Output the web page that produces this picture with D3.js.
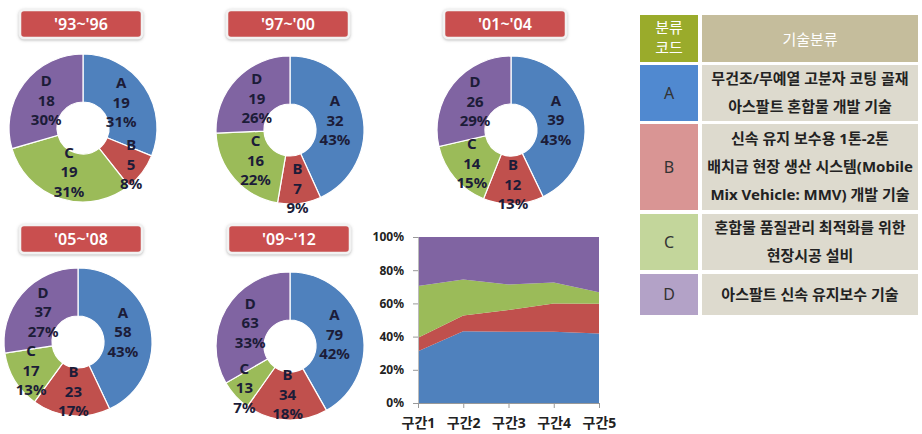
<!DOCTYPE html>
<html>
<head>
<meta charset="utf-8">
<script src="https://cdn.jsdelivr.net/npm/d3@7/dist/d3.min.js"></script>
<style>
  body { margin: 0; background: #fff; }
  svg text { font-family: "Noto Sans", "Noto Sans CJK KR", sans-serif; }
</style>
</head>
<body>
<div class="chart"></div>
<script>
//data
var periods = ["'93~'96", "'97~'00", "'01~'04", "'05~'08", "'09~'12"];
var codes = ["A", "B", "C", "D"];
var countA = [19, 32, 39, 58, 79];
var countB = [5, 7, 12, 23, 34];
var countC = [19, 16, 14, 17, 13];
var countD = [18, 19, 26, 37, 63];
var sections = ["구간1", "구간2", "구간3", "구간4", "구간5"];
var yTicks = [0, 0.2, 0.4, 0.6, 0.8, 1];
var tableHead = ["분류|코드", "기술분류"];
var techNames = [
  ["무건조/무예열 고분자 코팅 골재", "아스팔트 혼합물 개발 기술"],
  ["신속 유지 보수용 1톤-2톤", "배치급 현장 생산 시스템(Mobile", "Mix Vehicle: MMV) 개발 기술"],
  ["혼합물 품질관리 최적화를 위한", "현장시공 설비"],
  ["아스팔트 신속 유지보수 기술"]
];

var width = 922, height = 434;
var colors = d3.scaleOrdinal().domain(codes).range(["#4f81bd", "#c0504d", "#9bbb59", "#8064a2"]);
var cellColors = d3.scaleOrdinal().domain(codes).range(["#5089d0", "#d99594", "#c3d69b", "#b3a2c7"]);
var pctFmt = d3.format(".0%");

var svg = d3.select(".chart").append("svg")
            .attr("width", width)
            .attr("height", height);

var defs = svg.append("defs");
var shadow = defs.append("filter").attr("id", "shadow")
                 .attr("x", "-20%").attr("y", "-40%").attr("width", "140%").attr("height", "180%");
shadow.append("feDropShadow").attr("dx", 0).attr("dy", 1).attr("stdDeviation", 1.5)
      .attr("flood-color", "#888").attr("flood-opacity", 0.6);

//one list of {code, value} per period
var counts = [countA, countB, countC, countD];
var periodData = periods.map(function(p, i) {
  return codes.map(function(c, j) { return { code: c, value: counts[j][i] }; });
});

//donut layout
var donutPos = [
  { cx: 83, cy: 128, bx: 20, by: 10 },
  { cx: 290, cy: 130, bx: 227, by: 10 },
  { cx: 511, cy: 130, bx: 444, by: 10 },
  { cx: 78, cy: 342, bx: 20, by: 225 },
  { cx: 290, cy: 346, bx: 228, by: 225 }
];

var pie = d3.pie().sort(null).value(function(d) { return d.value; });
var arc = d3.arc().innerRadius(26).outerRadius(74);

periodData.forEach(function(data, i) {
  var pos = donutPos[i];
  var total = d3.sum(data, function(d) { return d.value; });

  //title badge
  var badge = svg.append("g").attr("transform", "translate(" + pos.bx + "," + pos.by + ")");
  badge.append("rect")
       .attr("width", 122).attr("height", 28).attr("rx", 4)
       .attr("fill", "#c9504f")
       .attr("stroke", "#f2f2f2").attr("stroke-width", 2.5)
       .attr("filter", "url(#shadow)");
  badge.append("text")
       .attr("x", 61).attr("y", 14).attr("dy", "0.36em")
       .attr("text-anchor", "middle")
       .attr("fill", "#fff")
       .attr("font-size", 16).attr("font-weight", 600)
       .text(periods[i]);

  var g = svg.append("g").attr("transform", "translate(" + pos.cx + "," + pos.cy + ")");
  var arcs = pie(data);
  g.selectAll("path").data(arcs).enter().append("path")
   .attr("d", arc)
   .attr("fill", function(d) { return colors(d.data.code); })
   .attr("stroke", "#fff").attr("stroke-width", 1.2);

  //labels: small slices pushed outward
  g.selectAll("text.lbl").data(arcs).enter().append("text")
   .attr("class", "lbl")
   .attr("transform", function(d) {
     var p = d.data.value / total;
     var r = 46 + Math.max(0, 0.2 - p) * 120;
     var a = (d.startAngle + d.endAngle) / 2;
     return "translate(" + (r * Math.sin(a)) + "," + (-r * Math.cos(a)) + ")";
   })
   .attr("text-anchor", "middle")
   .attr("font-size", 15).attr("font-weight", "bold")
   .attr("fill", "#1c1c38")
   .each(function(d) {
     var t = d3.select(this);
     var lines = [d.data.code, d.data.value, pctFmt(d.data.value / total)];
     lines.forEach(function(l, k) {
       t.append("tspan").attr("x", 0).attr("y", (k - 1) * 19.5).attr("dy", "0.36em").text(l);
     });
   });
});

//100% stacked area chart
var stackRows = sections.map(function(s, i) {
  var row = { section: s };
  codes.forEach(function(c, j) { row[c] = counts[j][i]; });
  return row;
});
var series = d3.stack().keys(codes).offset(d3.stackOffsetExpand)(stackRows);

var xScale = d3.scalePoint().domain(sections).range([418, 599]);
var yScale = d3.scaleLinear().domain([0, 1]).range([403, 237]);

var area = d3.area()
  .x(function(d) { return xScale(d.data.section); })
  .y0(function(d) { return yScale(d[0]); })
  .y1(function(d) { return yScale(d[1]); });

svg.append("g").selectAll("path").data(series).enter().append("path")
   .attr("d", area)
   .attr("fill", function(d) { return colors(d.key); });

var yAxis = d3.axisLeft(yScale).tickValues(yTicks).tickFormat(d3.format(".0%")).tickSize(5).tickPadding(9);
var yAxisGroup = svg.append("g").attr("transform", "translate(418,0)").call(yAxis);
yAxisGroup.select(".domain").attr("stroke", "#bbb");
yAxisGroup.selectAll(".tick line").attr("stroke", "#999");
yAxisGroup.selectAll("text").attr("font-size", 12).attr("font-weight", "bold").attr("fill", "#222");

var xAxis = d3.axisBottom(xScale).tickSize(5).tickPadding(10).tickSizeOuter(0);
var xAxisGroup = svg.append("g").attr("transform", "translate(0,403)").call(xAxis);
xAxisGroup.select(".domain").attr("stroke", "#999");
xAxisGroup.selectAll(".tick line").attr("stroke", "#999");
xAxisGroup.selectAll("text").attr("font-size", 14).attr("font-weight", "bold").attr("fill", "#222");

//classification table
var codeX = 640, codeW = 58, descX = 702, descW = 216;
var rowTop = [65, 124, 214, 274];
var rowBottom = [121, 210, 270, 315];

var table = svg.append("g");
table.append("rect").attr("x", codeX).attr("y", 15).attr("width", codeW).attr("height", 47).attr("fill", "#9aab2b");
table.append("rect").attr("x", descX).attr("y", 15).attr("width", descW).attr("height", 47).attr("fill", "#c5bd9c");
tableHead[0].split("|").forEach(function(l, k) {
  table.append("text").attr("x", codeX + codeW / 2).attr("y", 28 + k * 20).attr("dy", "0.36em")
       .attr("text-anchor", "middle").attr("fill", "#fff").attr("font-size", 15).text(l);
});
table.append("text").attr("x", descX + descW / 2).attr("y", 40).attr("dy", "0.36em")
     .attr("text-anchor", "middle").attr("fill", "#fff").attr("font-size", 15).text(tableHead[1]);

codes.forEach(function(c, i) {
  var top = rowTop[i], h = rowBottom[i] - rowTop[i], mid = top + h / 2;
  table.append("rect").attr("x", codeX).attr("y", top).attr("width", codeW).attr("height", h)
       .attr("fill", cellColors(c));
  table.append("rect").attr("x", descX).attr("y", top).attr("width", descW).attr("height", h)
       .attr("fill", "#dddace");
  table.append("text").attr("x", codeX + codeW / 2).attr("y", mid).attr("dy", "0.36em")
       .attr("text-anchor", "middle").attr("fill", "#333").attr("font-size", 16).text(c);
  var lines = techNames[i];
  var lh = 28;
  lines.forEach(function(l, k) {
    table.append("text")
         .attr("x", descX + descW / 2)
         .attr("y", mid + (k - (lines.length - 1) / 2) * lh)
         .attr("dy", "0.36em")
         .attr("text-anchor", "middle")
         .attr("fill", "#222").attr("font-size", 15).attr("font-weight", "bold")
         .text(l);
  });
});
</script>
</body>
</html>
